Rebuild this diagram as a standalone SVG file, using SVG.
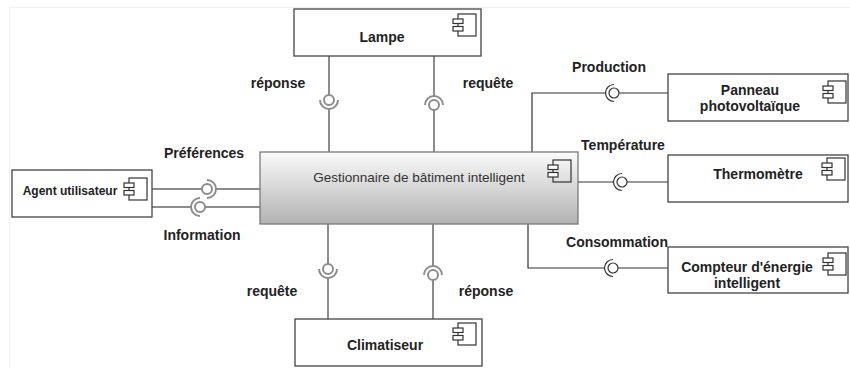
<svg xmlns="http://www.w3.org/2000/svg" width="850" height="368" viewBox="0 0 850 368">
  <style>
    .box { fill: #ffffff; stroke: #444444; stroke-width: 1.3; }
    .main { fill: url(#mainGrad); stroke: #7a7a7a; stroke-width: 1.3; }
    .name { font-family: "Liberation Sans", Arial, sans-serif; font-size: 14px; font-weight: bold; fill: #222222; text-anchor: middle; }
    .small { font-size: 12px; }
    .title { font-family: "Liberation Sans", Arial, sans-serif; font-size: 13.5px; fill: #333333; text-anchor: middle; }
    .lbl { font-family: "Liberation Sans", Arial, sans-serif; font-size: 14px; font-weight: bold; fill: #222222; text-anchor: middle; }
    .wire { fill: none; stroke: #8c8c8c; stroke-width: 2; }
    .wire2 { fill: none; stroke: #333333; stroke-width: 1.2; }
    .ball { fill: #ffffff; stroke: #8c8c8c; stroke-width: 2; }
    .ball2 { fill: #ffffff; stroke: #333333; stroke-width: 1.2; }
    .icon { fill: none; stroke: #333333; stroke-width: 1.2; }
    .tab { fill: #ffffff; stroke: #333333; stroke-width: 1.2; }
  </style>
  <defs>
    <linearGradient id="mainGrad" x1="0" y1="0" x2="0" y2="1">
      <stop offset="0" stop-color="#fbfbfb"/>
      <stop offset="1" stop-color="#b2b2b2"/>
    </linearGradient>
    <!-- UML component glyph -->
    <g id="compIcon">
      <rect class="icon" x="5" y="0" width="18" height="22"/>
      <rect class="tab" x="0" y="5" width="10" height="4.5"/>
      <rect class="tab" x="0" y="12.5" width="10" height="4.5"/>
    </g>
  </defs>

  <!-- page border -->
  <path d="M9.5 368 V7.5 H850" fill="none" stroke="#f0f0f0" stroke-width="1"/>

  <!-- connectors -->
  <g id="connectors">
    <!-- Lampe: réponse (provided ball, socket below) -->
    <path class="wire" d="M329 56 V95"/>
    <path class="wire" d="M320 100 A9 9 0 0 0 338 100"/>
    <circle class="ball" cx="329" cy="100" r="5"/>
    <path class="wire" d="M329 109 V152"/>
    <!-- Lampe: requête -->
    <path class="wire" d="M434 56 V96"/>
    <path class="wire" d="M425 105 A9 9 0 0 1 443 105"/>
    <circle class="ball" cx="434" cy="105" r="5"/>
    <path class="wire" d="M434 110 V152"/>

    <!-- Climatiseur: requête -->
    <path class="wire" d="M328 224 V264"/>
    <path class="wire" d="M319 269 A9 9 0 0 0 337 269"/>
    <circle class="ball" cx="328" cy="269" r="5"/>
    <path class="wire" d="M328 278 V319"/>
    <!-- Climatiseur: réponse -->
    <path class="wire" d="M433 224 V266"/>
    <path class="wire" d="M424 275 A9 9 0 0 1 442 275"/>
    <circle class="ball" cx="433" cy="275" r="5"/>
    <path class="wire" d="M433 280 V319"/>

    <!-- Agent utilisateur: Préférences -->
    <path class="wire" d="M152 189 H202"/>
    <path class="wire" d="M207 180 A9 9 0 0 1 207 198"/>
    <circle class="ball" cx="207" cy="189" r="5"/>
    <path class="wire" d="M216 189 H260"/>
    <!-- Agent utilisateur: Information -->
    <path class="wire" d="M152 207 H191"/>
    <path class="wire" d="M200 198 A9 9 0 0 0 200 216"/>
    <circle class="ball" cx="200" cy="207" r="5"/>
    <path class="wire" d="M205 207 H260"/>

    <!-- Production -->
    <path class="wire2" d="M532 152 V93 H605"/>
    <path class="wire2" d="M614 84.5 A8.5 8.5 0 0 0 614 101.5"/>
    <circle class="ball2" cx="614" cy="93" r="5"/>
    <path class="wire2" d="M619 93 H668"/>
    <!-- Température -->
    <path class="wire2" d="M578 182 H613"/>
    <path class="wire2" d="M622 173.5 A8.5 8.5 0 0 0 622 190.5"/>
    <circle class="ball2" cx="622" cy="182" r="5"/>
    <path class="wire2" d="M627 182 H668"/>
    <!-- Consommation -->
    <path class="wire2" d="M528 224 V268 H604"/>
    <path class="wire2" d="M613 259.5 A8.5 8.5 0 0 0 613 276.5"/>
    <circle class="ball2" cx="613" cy="268" r="5"/>
    <path class="wire2" d="M618 268 H668"/>

    <!-- interface labels -->
    <text class="lbl" x="278" y="88">réponse</text>
    <text class="lbl" x="488" y="88">requête</text>
    <text class="lbl" x="272" y="296">requête</text>
    <text class="lbl" x="486" y="296">réponse</text>
    <text class="lbl" x="204" y="158">Préférences</text>
    <text class="lbl" x="202" y="240">Information</text>
    <text class="lbl" x="609" y="72">Production</text>
    <text class="lbl" x="623" y="150">Température</text>
    <text class="lbl" x="617" y="247">Consommation</text>
  </g>

  <g id="lampe">
    <rect class="box" x="294" y="9" width="187" height="47"/>
    <use href="#compIcon" x="453" y="14"/>
    <text class="name" x="382" y="42">Lampe</text>
  </g>

  <g id="gestionnaire">
    <rect class="main" x="260" y="152" width="318" height="72"/>
    <use href="#compIcon" x="548" y="160"/>
    <text class="title" x="419" y="182">Gestionnaire de bâtiment intelligent</text>
  </g>

  <g id="agent">
    <rect class="box" x="12" y="170" width="140" height="47"/>
    <use href="#compIcon" x="124" y="178"/>
    <text class="name small" x="70" y="195">Agent utilisateur</text>
  </g>

  <g id="panneau">
    <rect class="box" x="668" y="74" width="180" height="47"/>
    <use href="#compIcon" x="823" y="81"/>
    <text class="name" x="750" y="95">Panneau</text>
    <text class="name" x="750" y="111">photovoltaïque</text>
  </g>

  <g id="thermometre">
    <rect class="box" x="668" y="155" width="180" height="47"/>
    <use href="#compIcon" x="822" y="158"/>
    <text class="name" x="758" y="179">Thermomètre</text>
  </g>

  <g id="compteur">
    <rect class="box" x="668" y="247" width="180" height="46"/>
    <use href="#compIcon" x="823" y="253"/>
    <text class="name" x="747" y="272">Compteur d'énergie</text>
    <text class="name" x="747" y="288">intelligent</text>
  </g>

  <g id="climatiseur">
    <rect class="box" x="295" y="319" width="187" height="47"/>
    <use href="#compIcon" x="453" y="323"/>
    <text class="name" x="385" y="350">Climatiseur</text>
  </g>
</svg>
